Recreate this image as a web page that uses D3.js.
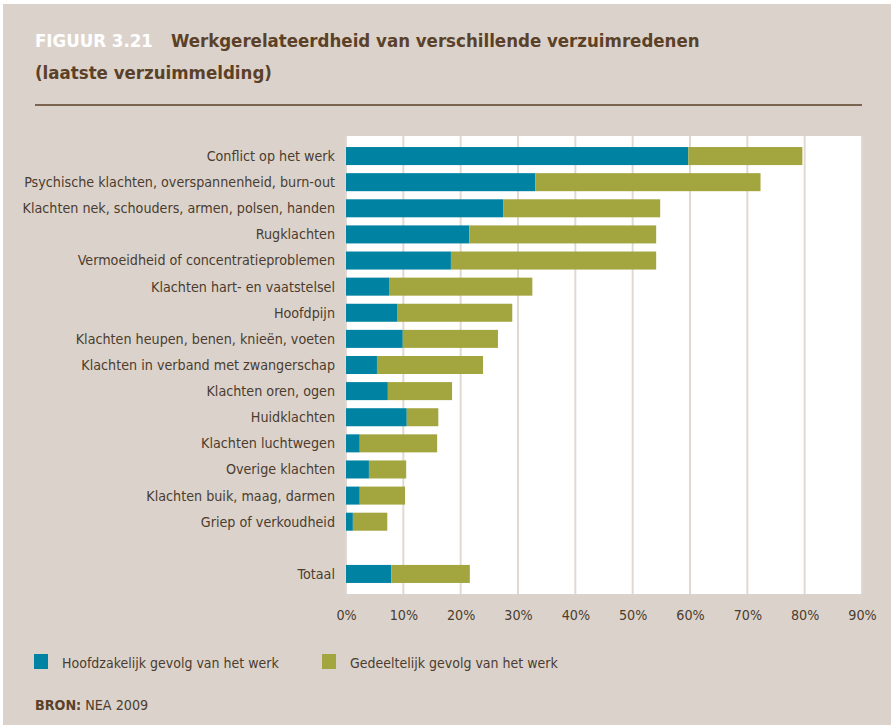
<!DOCTYPE html>
<html lang="nl">
<head>
<meta charset="utf-8">
<script src="https://d3js.org/d3.v7.min.js"></script>
<style>
  body { margin: 0; background: #fff; }
  svg text { font-family: "Liberation Sans Narrow", "DejaVu Sans Condensed", "Roboto", sans-serif; }
</style>
</head>
<body>
<div id="chart"></div>
<script>
// categories, top to bottom ("" is the empty slot before Totaal)
var categories = [
  "Conflict op het werk",
  "Psychische klachten, overspannenheid, burn-out",
  "Klachten nek, schouders, armen, polsen, handen",
  "Rugklachten",
  "Vermoeidheid of concentratieproblemen",
  "Klachten hart- en vaatstelsel",
  "Hoofdpijn",
  "Klachten heupen, benen, knieën, voeten",
  "Klachten in verband met zwangerschap",
  "Klachten oren, ogen",
  "Huidklachten",
  "Klachten luchtwegen",
  "Overige klachten",
  "Klachten buik, maag, darmen",
  "Griep of verkoudheid",
  "",
  "Totaal"
];
// percentages per series
var hoofdzakelijk = [59.7, 33.0, 27.4, 21.5, 18.3, 7.5, 8.9, 9.9, 5.4, 7.3, 10.6, 2.4, 4.0, 2.4, 1.2, null, 7.9];
var gedeeltelijk  = [19.9, 39.3, 27.4, 32.6, 35.8, 25.0, 20.1, 16.6, 18.5, 11.2, 5.5, 13.5, 6.5, 7.9, 6.0, null, 13.7];
var ticks = [0, 10, 20, 30, 40, 50, 60, 70, 80, 90];
var seriesNames = ["Hoofdzakelijk gevolg van het werk", "Gedeeltelijk gevolg van het werk"];
var colors = ["#0082a2", "#a3a53e"];

var W = 891, H = 725;
var brown = "#5b4128";
var textCol = "#4b3c2f";

var svg = d3.select("#chart").append("svg")
  .attr("width", W).attr("height", H);

// beige panel
svg.append("rect").attr("x", 3).attr("y", 4).attr("width", W - 3).attr("height", H - 4)
  .attr("fill", "#dbd3cb");

// title
var t = svg.append("text").attr("x", 35).attr("y", 47)
  .style("font-size", "18.5px").style("font-weight", "bold");
t.append("tspan").attr("fill", "#fff").text("FIGUUR 3.21");
t.append("tspan").attr("fill", brown).attr("dx", 18).text("Werkgerelateerdheid van verschillende verzuimredenen");
svg.append("text").attr("x", 35).attr("y", 79)
  .style("font-size", "18.5px").style("font-weight", "bold").attr("fill", brown)
  .text("(laatste verzuimmelding)");
svg.append("line").attr("x1", 35).attr("x2", 862).attr("y1", 105).attr("y2", 105)
  .attr("stroke", brown).attr("stroke-width", 1.5);

// scales
var x = d3.scaleLinear().domain([0, 90]).range([346, 862]);
var y = d3.scaleBand().domain(d3.range(categories.length)).range([143, 587]).paddingInner(0.31).paddingOuter(0.155);

// plot area
svg.append("rect").attr("x", x(0)).attr("y", 136).attr("width", x(90) - x(0)).attr("height", 594 - 136)
  .attr("fill", "#fff");

// gridlines
svg.append("g").selectAll("line").data(ticks).join("line")
  .attr("x1", d => x(d)).attr("x2", d => x(d))
  .attr("y1", 136).attr("y2", 594)
  .attr("stroke", "#e0d9d2").attr("stroke-width", 2);

// bars
var rows = categories.map(function(c, i) {
  return { i: i, a: hoofdzakelijk[i], b: gedeeltelijk[i] };
}).filter(d => d.a != null);

svg.append("g").selectAll("rect").data(rows).join("rect")
  .attr("x", x(0)).attr("y", d => y(d.i))
  .attr("width", d => x(d.a) - x(0)).attr("height", y.bandwidth())
  .attr("fill", colors[0]);

svg.append("g").selectAll("rect").data(rows).join("rect")
  .attr("x", d => x(d.a)).attr("y", d => y(d.i))
  .attr("width", d => x(d.a + d.b) - x(d.a)).attr("height", y.bandwidth())
  .attr("fill", colors[1]);

// category labels
svg.append("g").selectAll("text").data(categories).join("text")
  .attr("x", 335).attr("y", (d, i) => y(i) + y.bandwidth() / 2)
  .attr("dy", "0.35em").attr("text-anchor", "end")
  .style("font-size", "14.2px").attr("fill", textCol)
  .text(d => d);

// x axis labels
var xAxis = d3.axisBottom(x).tickValues(ticks).tickFormat(d => d + "%").tickSize(0).tickPadding(0);
var ax = svg.append("g").attr("transform", "translate(0,610)").call(xAxis);
ax.select(".domain").remove();
ax.selectAll("text").style("font-size", "14.2px").attr("fill", textCol)
  .style("font-family", "'Liberation Sans Narrow', 'DejaVu Sans Condensed', sans-serif");

// legend
var leg = svg.append("g").selectAll("g").data(seriesNames).join("g")
  .attr("transform", (d, i) => "translate(" + [34, 322][i] + ",654)");
leg.append("rect").attr("width", 14).attr("height", 15).attr("fill", (d, i) => colors[i]);
leg.append("text").attr("x", 28).attr("y", 13.5)
  .style("font-size", "14px").attr("fill", textCol).text(d => d);

// source
var s = svg.append("text").attr("x", 35).attr("y", 710).style("font-size", "14.2px").attr("fill", brown);
s.append("tspan").style("font-weight", "bold").text("BRON:");
s.append("tspan").attr("fill", textCol).text(" NEA 2009");
</script>
</body>
</html>
